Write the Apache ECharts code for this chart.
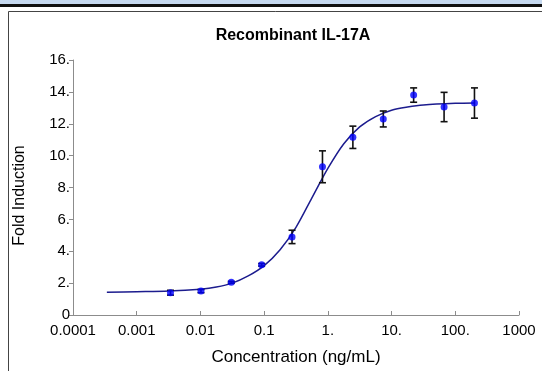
<!DOCTYPE html>
<html>
<head>
<meta charset="utf-8">
<script src="https://cdn.jsdelivr.net/npm/echarts@6/dist/echarts.min.js"></script>
<style>
  html, body { margin: 0; padding: 0; background: #fff; }
  #chart { width: 542px; height: 371px; }
</style>
</head>
<body>
<div id="chart"></div>
<script>
// measured points (3-fold dilution series)
const concentrations = [0.00339, 0.0102, 0.0305, 0.0914, 0.274, 0.823, 2.47, 7.41, 22.2, 66.7, 200]
const foldMeans = [1.4, 1.5, 2.05, 3.15, 4.9, 9.3, 11.15, 12.3, 13.8, 13.05, 13.3]
const foldErrors = [0.15, 0.1, 0.06, 0.08, 0.42, 1.0, 0.7, 0.5, 0.45, 0.92, 0.95]

// fitted curve
const fitX = [0.00034, 0.001, 0.00316, 0.01, 0.0178, 0.0316, 0.0562, 0.1, 0.178, 0.316, 0.562, 1.0, 1.78, 3.16, 5.62, 10, 17.8, 31.6, 100, 200]
const fitY = [1.43, 1.46, 1.5, 1.62, 1.75, 2.0, 2.45, 3.1, 4.1, 5.5, 7.35, 9.2, 10.75, 11.8, 12.45, 12.85, 13.05, 13.18, 13.28, 13.3]

const xTickLabels = { 0.0001: '0.0001', 0.001: '0.001', 0.01: '0.01', 0.1: '0.1', 1: '1.', 10: '10.', 100: '100.', 1000: '1000' }
const yTickLabels = ['0', '2.', '4.', '6.', '8.', '10.', '12.', '14.', '16.']

const chart = echarts.init(document.getElementById('chart'))

const labelFont = 'Liberation Sans, Arial, sans-serif'

chart.setOption({
  animation: false,
  title: {
    text: 'Recombinant IL-17A',
    left: 288,
    top: 23,
    textAlign: 'center',
    textStyle: { fontFamily: labelFont, fontSize: 16, fontWeight: 'bold', color: '#000' }
  },
  graphic: [
    { type: 'rect', shape: { x: 0, y: 0, width: 542, height: 4 }, style: { fill: '#c6d9f0' } },
    { type: 'rect', shape: { x: 0, y: 4, width: 542, height: 3 }, style: { fill: '#111' } },
    {
      type: 'polyline',
      shape: { points: [[8.5, 371], [8.5, 11.5], [542, 11.5]] },
      style: { stroke: '#444', lineWidth: 1, fill: null }
    }
  ],
  grid: {
    left: 73,
    right: 23,
    top: 60,
    bottom: 55
  },
  xAxis: {
    type: 'log',
    logBase: 10,
    min: 0.0001,
    max: 1000,
    name: 'Concentration (ng/mL)',
    nameLocation: 'middle',
    nameGap: 34,
    nameTextStyle: { fontFamily: labelFont, fontSize: 17, color: '#000' },
    axisLine: { lineStyle: { color: '#8c8c8c' } },
    axisTick: { inside: true, length: 4, lineStyle: { color: '#8c8c8c' } },
    axisLabel: {
      margin: 8,
      fontFamily: labelFont,
      fontSize: 15,
      color: '#000',
      showMinLabel: true,
      showMaxLabel: true,
      formatter: function (v) {
        const key = Number(v.toPrecision(1))
        return xTickLabels[key] !== undefined ? xTickLabels[key] : ''
      }
    },
    splitLine: { show: false }
  },
  yAxis: {
    type: 'value',
    min: 0,
    max: 16,
    interval: 2,
    name: 'Fold Induction',
    nameLocation: 'middle',
    nameGap: 45,
    nameTextStyle: { fontFamily: labelFont, fontSize: 16, color: '#000', padding: [0, 16, 0, 0] },
    axisLine: { show: true, lineStyle: { color: '#8c8c8c' } },
    axisTick: { show: true, length: 4, lineStyle: { color: '#8c8c8c' } },
    axisLabel: {
      margin: 3,
      fontFamily: labelFont,
      fontSize: 15,
      color: '#000',
      formatter: function (v) { return yTickLabels[Math.round(v / 2)] }
    },
    splitLine: { show: false }
  },
  series: [
    {
      name: 'fit',
      type: 'line',
      data: fitX.map((x, i) => [x, fitY[i]]),
      smooth: 0.3,
      symbol: 'none',
      lineStyle: { color: '#1c1c8e', width: 1.5 },
      z: 2
    },
    {
      name: 'error',
      type: 'custom',
      data: concentrations.map((x, i) => [x, foldMeans[i] - foldErrors[i], foldMeans[i] + foldErrors[i]]),
      renderItem: function (params, api) {
        const lo = api.coord([api.value(0), api.value(1)])
        const hi = api.coord([api.value(0), api.value(2)])
        const cap = 3.5
        const style = { stroke: '#111', lineWidth: 1.6 }
        return {
          type: 'group',
          children: [
            { type: 'line', shape: { x1: lo[0], y1: lo[1], x2: hi[0], y2: hi[1] }, style: style },
            { type: 'line', shape: { x1: lo[0] - cap, y1: lo[1], x2: lo[0] + cap, y2: lo[1] }, style: style },
            { type: 'line', shape: { x1: hi[0] - cap, y1: hi[1], x2: hi[0] + cap, y2: hi[1] }, style: style }
          ]
        }
      },
      z: 3
    },
    {
      name: 'mean',
      type: 'scatter',
      data: concentrations.map((x, i) => [x, foldMeans[i]]),
      symbol: 'circle',
      symbolSize: 7,
      itemStyle: { color: '#0000ff' },
      z: 4
    }
  ]
})
</script>
</body>
</html>
